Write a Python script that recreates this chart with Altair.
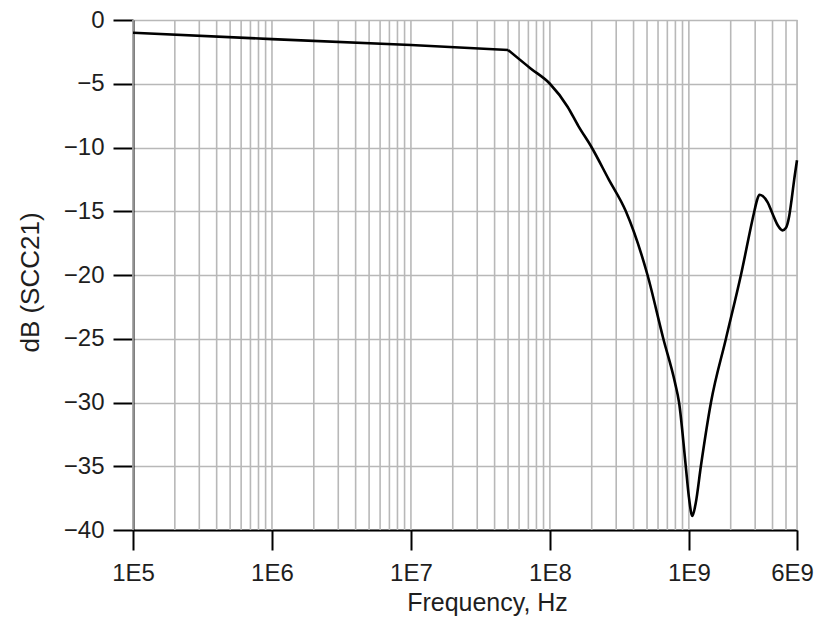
import altair as alt
import pandas as pd

# Curve (frequency in Hz, SCC21 in dB)
# flat part (straight segments up to the knee at 5E7)
flat_freq_hz = [1e5, 1e6, 1e7, 5e7]
flat_db = [-1.0, -1.5, -1.96, -2.35]
# roll-off, notch and resonance (smooth curve from the knee on)
roll_freq_hz = [5e7, 7.26e7, 1e8, 1.34e8, 1.6e8, 2e8, 2.65e8, 3.52e8,
                5.04e8, 6.55e8, 7.93e8, 8.5e8, 9.5e8, 1.0e9, 1.06e9, 1.12e9,
                1.22e9, 1.442e9, 1.848e9, 2.37e9, 2.96e9, 3.1e9, 3.22e9, 3.4e9,
                3.69e9, 4.0e9, 4.36e9, 4.72e9, 5.0e9, 5.27e9, 5.5e9, 5.73e9, 6.0e9]
roll_db = [-2.35, -3.8, -5.0, -6.8, -8.3, -10.0, -12.5, -15.0,
           -20.0, -25.0, -28.4, -30.0, -35.0, -37.4, -38.9, -37.9,
           -35.0, -30.0, -25.0, -20.0, -15.0, -14.1, -13.7, -13.8,
           -14.3, -15.2, -16.1, -16.5, -16.3, -15.4, -14.0, -12.5, -11.0]

# Vertical grid positions (log decades and their 2..9 multiples)
grid_freqs = [m * 10 ** e for e in range(5, 10) for m in range(1, 10) if m * 10 ** e <= 6e9]

x_tick_values = [1e5, 1e6, 1e7, 1e8, 1e9, 6e9]
x_tick_labels = ["1E5", "1E6", "1E7", "1E8", "1E9", "6E9"]
y_tick_values = [-40, -35, -30, -25, -20, -15, -10, -5, 0]

flat = pd.DataFrame({"f": flat_freq_hz, "db": flat_db})
roll = pd.DataFrame({"f": roll_freq_hz, "db": roll_db})
grid = pd.DataFrame({"f": grid_freqs})

FONT = "Liberation Sans"
TXT = "#1e1e1e"
GRID = "#b8b8b8"

label_expr = " : ".join(
    f"datum.value == {v:.0f} ? '{l}'" for v, l in zip(x_tick_values, x_tick_labels)
) + " : ''"

x_scale = alt.Scale(type="log", domain=[1e5, 6e9], nice=False)
y_scale = alt.Scale(domain=[-40, 0], nice=False)
x_axis = alt.Axis(
    values=x_tick_values, labelExpr=label_expr, grid=False,
    tickSize=20, tickWidth=2, tickColor="black",
    domainWidth=2, domainColor="black",
    labelFont=FONT, labelFontSize=24, labelColor=TXT, labelPadding=11,
    labelFlush=False, labelOverlap=False,
    labelOffset=alt.condition(f"datum.value == {x_tick_values[-1]:.0f}", alt.value(-5), alt.value(0)),
    title="Frequency, Hz", titleFont=FONT, titleFontSize=25,
    titleFontWeight="normal", titleColor=TXT,
    titleX=354, titleY=80, titleBaseline="alphabetic", titleAlign="center",
)

y_axis = alt.Axis(
    values=y_tick_values, grid=True, gridColor=GRID, gridWidth=1.6,
    tickSize=20, tickWidth=2, tickColor="black",
    domainWidth=2, domainColor="black",
    labelFont=FONT, labelFontSize=24, labelColor=TXT, labelPadding=9,
    title="dB (SCC21)", titleFont=FONT, titleFontSize=26,
    titleFontWeight="normal", titleColor=TXT,
    titleX=-95, titleY=262, titleAngle=-90,
    titleBaseline="alphabetic", titleAlign="center",
)

grid_layer = alt.Chart(grid).mark_rule(color=GRID, strokeWidth=1.6).encode(
    x=alt.X("f:Q", scale=x_scale, axis=x_axis),
)

flat_layer = alt.Chart(flat).mark_line(color="black", strokeWidth=2.6).encode(
    x=alt.X("f:Q", scale=x_scale, axis=x_axis),
    y=alt.Y("db:Q", scale=y_scale, axis=y_axis),
)

roll_layer = alt.Chart(roll).mark_line(
    color="black", strokeWidth=2.6, interpolate="monotone", strokeJoin="round"
).encode(
    x=alt.X("f:Q", scale=x_scale, axis=x_axis),
    y=alt.Y("db:Q", scale=y_scale, axis=y_axis),
)

chart = alt.layer(grid_layer, flat_layer, roll_layer).properties(
    width=664, height=510,
    padding={"left": 125, "top": 12, "right": 20, "bottom": 86},
    autosize=alt.AutoSizeParams(type="none"),
).configure_view(stroke="black", strokeWidth=2).configure(background="white")

chart.save("out.html", embed_options={"renderer": "svg", "actions": False})
